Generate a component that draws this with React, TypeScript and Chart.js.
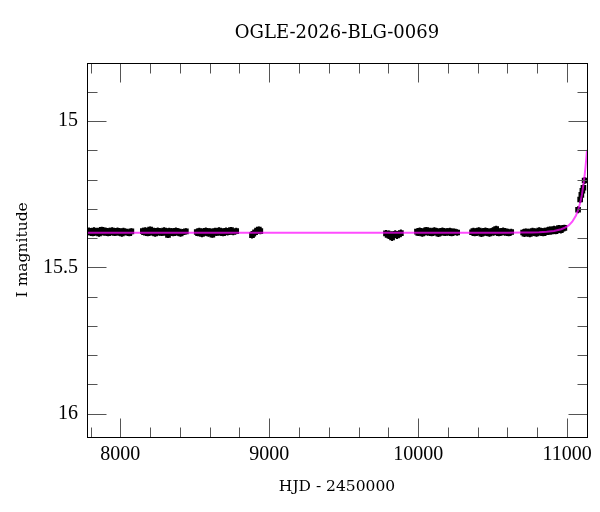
import React, { useEffect, useRef } from "react";
import { Chart, registerables } from "chart.js";

Chart.register(...registerables);

const TITLE = "OGLE-2026-BLG-0069";
const X_LABEL = "HJD - 2450000";
const Y_LABEL = "I magnitude";

const X_MIN = 7776;
const X_MAX = 11134;
const Y_MIN = 14.8;
const Y_MAX = 16.08;

const xMajorTicks = [8000, 9000, 10000, 11000];
const xAllTicks = [7800, 8000, 8200, 8400, 8600, 8800, 9000, 9200, 9400, 9600, 9800, 10000, 10200, 10400, 10600, 10800, 11000];
const yMajorTicks = [15, 15.5, 16];
const yAllTicks = [14.9, 15.0, 15.1, 15.2, 15.3, 15.4, 15.5, 15.6, 15.7, 15.8, 15.9, 16.0];

// Photometry, season by season (HJD - 2450000, I mag)
const s1T = [7782, 7790, 7799, 7806, 7815, 7823, 7832, 7840, 7849, 7857, 7866, 7875, 7883, 7892, 7901, 7910, 7918, 7927, 7936, 7945, 7954, 7963, 7972, 7981, 7990, 8000, 8010, 8021, 8033, 8046, 8060, 8074];
const s1M = [15.379, 15.375, 15.381, 15.377, 15.383, 15.374, 15.378, 15.380, 15.376, 15.384, 15.377, 15.372, 15.379, 15.381, 15.375, 15.378, 15.383, 15.376, 15.380, 15.374, 15.379, 15.382, 15.377, 15.375, 15.381, 15.378, 15.384, 15.376, 15.380, 15.379, 15.383, 15.377];

const s2T = [8151, 8159, 8167, 8175, 8184, 8192, 8200, 8209, 8217, 8226, 8234, 8243, 8251, 8260, 8268, 8277, 8285, 8294, 8302, 8311, 8320, 8328, 8337, 8346, 8355, 8364, 8373, 8383, 8393, 8404, 8418, 8440];
const s2M = [15.376, 15.380, 15.374, 15.378, 15.383, 15.377, 15.371, 15.379, 15.381, 15.376, 15.384, 15.378, 15.375, 15.380, 15.377, 15.382, 15.379, 15.374, 15.381, 15.378, 15.389, 15.376, 15.380, 15.377, 15.383, 15.379, 15.375, 15.381, 15.378, 15.384, 15.380, 15.377];

const s3T = [8513, 8522, 8530, 8539, 8548, 8556, 8565, 8574, 8583, 8592, 8600, 8609, 8618, 8627, 8636, 8645, 8654, 8663, 8672, 8681, 8690, 8700, 8710, 8720, 8731, 8743, 8758, 8778];
const s3M = [15.379, 15.383, 15.376, 15.381, 15.386, 15.378, 15.382, 15.375, 15.380, 15.384, 15.377, 15.381, 15.388, 15.379, 15.376, 15.382, 15.378, 15.374, 15.381, 15.377, 15.383, 15.379, 15.375, 15.380, 15.378, 15.373, 15.379, 15.376];

const s4T = [8884, 8893, 8905, 8918, 8930, 8940];
const s4M = [15.390, 15.385, 15.380, 15.374, 15.371, 15.376];

const s5T = [9784, 9795, 9806, 9815, 9825, 9836, 9846, 9858, 9870, 9884];
const s5M = [15.384, 15.389, 15.386, 15.393, 15.398, 15.388, 15.385, 15.391, 15.387, 15.383];

const s6T = [9992, 10001, 10010, 10019, 10028, 10037, 10046, 10055, 10064, 10073, 10082, 10091, 10100, 10109, 10118, 10127, 10136, 10145, 10154, 10163, 10172, 10182, 10192, 10202, 10213, 10225, 10240, 10262];
const s6M = [15.378, 15.382, 15.375, 15.380, 15.384, 15.377, 15.379, 15.373, 15.381, 15.378, 15.376, 15.383, 15.379, 15.374, 15.380, 15.377, 15.385, 15.378, 15.381, 15.375, 15.379, 15.382, 15.377, 15.380, 15.376, 15.383, 15.378, 15.381];

const s7T = [10362, 10371, 10380, 10389, 10398, 10407, 10416, 10425, 10434, 10443, 10452, 10461, 10470, 10479, 10488, 10497, 10506, 10515, 10524, 10533, 10542, 10551, 10561, 10571, 10582, 10594, 10608, 10625];
const s7M = [15.380, 15.376, 15.383, 15.378, 15.381, 15.374, 15.379, 15.385, 15.377, 15.380, 15.375, 15.382, 15.378, 15.384, 15.379, 15.376, 15.381, 15.373, 15.369, 15.378, 15.383, 15.377, 15.380, 15.375, 15.381, 15.378, 15.383, 15.379];

const s8T = [10705, 10714, 10723, 10732, 10741, 10750, 10759, 10768, 10777, 10786, 10795, 10804, 10813, 10822, 10831, 10840, 10849, 10858, 10867, 10876, 10885, 10894, 10903, 10913, 10923, 10934, 10946, 10958, 10970, 10982];
const s8M = [15.381, 15.385, 15.378, 15.383, 15.379, 15.386, 15.380, 15.376, 15.382, 15.378, 15.384, 15.379, 15.374, 15.381, 15.377, 15.383, 15.376, 15.380, 15.374, 15.378, 15.371, 15.377, 15.373, 15.369, 15.376, 15.371, 15.366, 15.373, 15.368, 15.365];

const s9T = [11074, 11088, 11096, 11103, 11110, 11118];
const s9M = [15.303, 15.268, 15.252, 15.238, 15.228, 15.203];

const seasonTimes = [s1T, s2T, s3T, s4T, s5T, s6T, s7T, s8T, s9T];
const seasonMags = [s1M, s2M, s3M, s4M, s5M, s6M, s7M, s8M, s9M];
const seasonErrors = [0.011, 0.011, 0.011, 0.011, 0.012, 0.011, 0.011, 0.011, 0.012];

// Model light curve
const modelT = [7776, 9000, 10000, 10400, 10600, 10700, 10764, 10813, 10863, 10912, 10961, 10986, 11011, 11035, 11060, 11075, 11090, 11100, 11109, 11119, 11124, 11129, 11134, 11139];
const modelM = [15.382, 15.382, 15.382, 15.3819, 15.3815, 15.3811, 15.3805, 15.3797, 15.3782, 15.3754, 15.3697, 15.3645, 15.3566, 15.3438, 15.3226, 15.3032, 15.276, 15.2516, 15.2208, 15.181, 15.1569, 15.1298, 15.0986, 15.063];

const obsPoints: { x: number; y: number }[] = [];
const obsErrors: number[] = [];
seasonTimes.forEach((ts, i) => {
  ts.forEach((t, j) => {
    obsPoints.push({ x: t, y: seasonMags[i][j] });
    obsErrors.push(seasonErrors[i]);
  });
});
const modelPoints = modelT.map((t, i) => ({ x: t, y: modelM[i] }));

const SERIF = "'DejaVu Serif', serif";
const NUM_FONT = "'Liberation Serif', serif";

const decorPlugin = {
  id: "decor",
  beforeDatasetsDraw(chart: any) {
    const { ctx, chartArea: a, scales } = chart;
    const x = scales.x;
    const y = scales.y;
    ctx.save();
    ctx.beginPath();
    ctx.rect(a.left, a.top, a.right - a.left, a.bottom - a.top);
    ctx.clip();
    ctx.strokeStyle = "#000";
    ctx.lineWidth = 2;
    ctx.beginPath();
    obsPoints.forEach((p, i) => {
      const px = x.getPixelForValue(p.x);
      const y1 = y.getPixelForValue(p.y - obsErrors[i]);
      const y2 = y.getPixelForValue(p.y + obsErrors[i]);
      ctx.moveTo(px, y1);
      ctx.lineTo(px, y2);
    });
    ctx.stroke();
    ctx.restore();
  },
  afterDraw(chart: any) {
    const { ctx, chartArea: a, scales } = chart;
    const x = scales.x;
    const y = scales.y;
    const L = Math.round(a.left) + 0.5;
    const R = Math.round(a.right) + 0.5;
    const T = Math.round(a.top) + 0.5;
    const B = Math.round(a.bottom) + 0.5;
    ctx.save();
    ctx.strokeStyle = "#555";
    ctx.lineWidth = 1;
    ctx.beginPath();
    xAllTicks.forEach((v) => {
      const px = Math.round(x.getPixelForValue(v)) + 0.5;
      const len = xMajorTicks.includes(v) ? 19 : 10;
      ctx.moveTo(px, B);
      ctx.lineTo(px, B - len);
      ctx.moveTo(px, T);
      ctx.lineTo(px, T + len);
    });
    yAllTicks.forEach((v) => {
      const py = Math.round(y.getPixelForValue(v)) + 0.5;
      const len = yMajorTicks.some((m) => Math.abs(m - v) < 1e-6) ? 19 : 10;
      ctx.moveTo(L, py);
      ctx.lineTo(L + len, py);
      ctx.moveTo(R, py);
      ctx.lineTo(R - len, py);
    });
    ctx.stroke();
    ctx.strokeStyle = "#000";
    ctx.strokeRect(L, T, R - L, B - T);
    ctx.restore();
  },
};

export default function App() {
  const canvasRef = useRef<HTMLCanvasElement | null>(null);

  useEffect(() => {
    const canvas = canvasRef.current;
    if (!canvas) return;
    const chart = new Chart(canvas, {
      type: "scatter",
      data: {
        datasets: [
          {
            type: "line",
            label: "model",
            data: modelPoints,
            borderColor: "rgba(255,0,255,0.7)",
            borderWidth: 2,
            pointRadius: 0,
            fill: false,
            tension: 0,
            order: 0,
          } as any,
          {
            label: "OGLE I",
            data: obsPoints,
            pointStyle: "rect",
            pointRadius: 4,
            backgroundColor: "#000",
            borderColor: "#000",
            borderWidth: 0,
            order: 1,
          },
        ],
      },
      options: {
        responsive: false,
        animation: false,
        events: [],
        layout: { padding: { left: 0, right: 13, top: 0, bottom: 0 } },
        plugins: {
          legend: { display: false },
          tooltip: { enabled: false },
          title: {
            display: true,
            text: TITLE,
            fullSize: false,
            color: "#000",
            font: { family: SERIF, size: 18, weight: "normal" },
            padding: { top: 23, bottom: 18 },
          },
        },
        scales: {
          x: {
            type: "linear",
            bounds: "data",
            min: X_MIN,
            max: X_MAX,
            grid: { display: false, drawTicks: false },
            border: { display: false },
            afterBuildTicks: (s: any) => {
              s.ticks = xMajorTicks.map((v) => ({ value: v }));
            },
            afterFit: (s: any) => {
              s.height = 75;
            },
            ticks: {
              autoSkip: false,
              maxRotation: 0,
              color: "#000",
              padding: 6,
              font: { family: NUM_FONT, size: 20 },
              callback: (v: any) => String(v),
            },
            title: {
              display: true,
              text: X_LABEL,
              color: "#000",
              font: { family: SERIF, size: 15.5 },
              padding: { top: 0, bottom: 16 },
            },
          },
          y: {
            type: "linear",
            reverse: true,
            bounds: "data",
            min: Y_MIN,
            max: Y_MAX,
            grid: { display: false, drawTicks: false },
            border: { display: false },
            afterBuildTicks: (s: any) => {
              s.ticks = yMajorTicks.map((v) => ({ value: v }));
            },
            afterFit: (s: any) => {
              s.width = 87;
            },
            ticks: {
              autoSkip: false,
              color: "#000",
              padding: 9,
              font: { family: NUM_FONT, size: 20 },
              callback: (v: any) => String(v),
            },
            title: {
              display: true,
              text: Y_LABEL,
              color: "#000",
              font: { family: SERIF, size: 15.5 },
              padding: { top: 14, bottom: 0 },
            },
          },
        },
      },
      plugins: [decorPlugin],
    });
    return () => chart.destroy();
  }, []);

  return (
    <div style={{ position: "absolute", left: 0, top: 0, width: 600, height: 512, background: "#fff" }}>
      <canvas ref={canvasRef} width={600} height={512} style={{ display: "block" }} />
    </div>
  );
}
